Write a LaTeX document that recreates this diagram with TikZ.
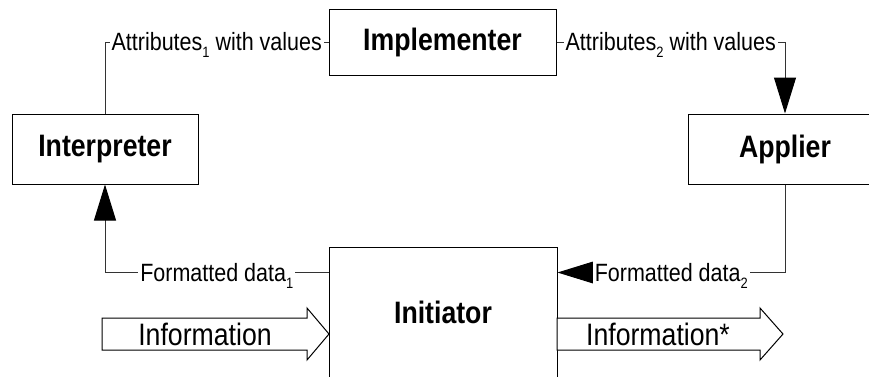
\documentclass[tikz,border=0pt]{standalone}
\usepackage{fontspec}
\setmainfont{Liberation Sans}[FakeStretch=0.86]
\usetikzlibrary{arrows.meta}
\tikzset{box/.style = {draw, line width=1pt, inner sep=0pt, font=\fontsize{31}{31}\selectfont\bfseries},
         lbl/.style = {fill=white, inner sep=2pt, font=\fontsize{25}{25}\selectfont},
         link/.style = {line width=1pt, draw=black!80},
         flow/.style = {link, -{Triangle[length=36pt, width=22pt, color=black]}},
         fat/.style = {draw, line width=1pt, fill=white}}
\newcommand{\lowidx}[1]{\raisebox{-7pt}[0pt][0pt]{\fontsize{15}{15}\selectfont #1}}

\begin{document}
\begin{tikzpicture}[x=1pt, y=-1pt]
\clip (0,0) rectangle (869,376);
\node[box, minimum width=227pt, minimum height=66pt] (impl) at (442.5,42) {Implementer};
\node[box, minimum width=186pt, minimum height=70pt] (interp) at (105,149) {Interpreter};
\node[box, minimum width=194pt, minimum height=70pt] (appl) at (785,149) {Applier};
\node[box, minimum width=228pt, minimum height=130pt] (init) at (443,312) {Initiator};
% feedback loop
\draw[link] (impl.west) -| node[lbl, pos=0.25] {Attributes\lowidx{1} with values} (interp.north);
\draw[flow] (impl.east) -| node[lbl, pos=0.25] {Attributes\lowidx{2} with values} (appl.north);
\draw[flow] ([yshift=-26pt]init.north west) -| node[lbl, pos=0.25] {Formatted data\lowidx{1}} (interp.south);
\draw[flow] (appl.south) |- node[lbl, pos=0.75] {Formatted data\lowidx{2}} ([yshift=-26pt]init.north east);
% information in and out
\draw[fat] (102,318) -- (307,318) -- (307,308) -- (329,334) -- (307,360) -- (307,350) -- (102,350) -- cycle;
\node[font=\fontsize{31}{31}\selectfont] (info) at (205,334) {Information};
\draw[fat] (557,318) -- (760,318) -- (760,308) -- (783,334) -- (760,360) -- (760,350) -- (557,350) -- cycle;
\node[font=\fontsize{31}{31}\selectfont] (infostar) at (658,334) {Information*};
\end{tikzpicture}
\end{document}
